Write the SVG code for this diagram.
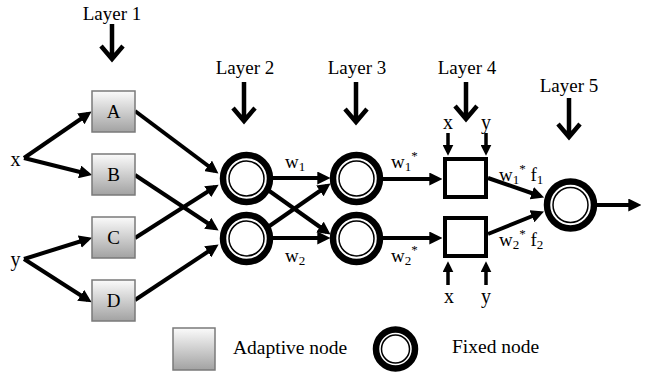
<svg xmlns="http://www.w3.org/2000/svg" width="648" height="377" viewBox="0 0 648 377" font-family="'Liberation Serif', 'Times New Roman', serif">
<defs>
<linearGradient id="gbox" x1="0" y1="0" x2="0" y2="1">
<stop offset="0" stop-color="#fbfbfb"/>
<stop offset="1" stop-color="#a2a2a2"/>
</linearGradient>
<marker id="ah" viewBox="0 0 12 12" refX="8" refY="6" markerWidth="13" markerHeight="13" markerUnits="userSpaceOnUse" orient="auto">
<path d="M0,0 L12,6 L0,12 z" fill="#000"/>
</marker>
<marker id="ahs" viewBox="0 0 12 12" refX="8" refY="6" markerWidth="11" markerHeight="11" markerUnits="userSpaceOnUse" orient="auto">
<path d="M0,0 L12,6 L0,12 z" fill="#000"/>
</marker>
</defs>
<style>
text{fill:#000;font-family:'Liberation Serif','Times New Roman',serif;}
.lbl{font-size:19px;text-anchor:middle;}
.in{font-size:20px;text-anchor:middle;}
.w{font-size:19px;}
.sub{font-size:13px;}
.ad{fill:url(#gbox);stroke:#7a7a7a;stroke-width:1.5;}
.ring{fill:#fff;stroke:#000;stroke-width:6.5;}
.inner{fill:none;stroke:#000;stroke-width:1.5;}
.sq{fill:#fff;stroke:#000;stroke-width:4;}
.c{fill:none;stroke:#000;stroke-width:4;marker-end:url(#ah);}
.cs{fill:none;stroke:#000;stroke-width:3.5;marker-end:url(#ahs);}
.la{fill:none;stroke:#000;stroke-width:4.5;stroke-linejoin:miter;}
</style>
<rect width="648" height="377" fill="#fff"/>

<g id="layer-labels">
<text class="lbl" x="112" y="20">Layer 1</text>
<path class="la" d="M112,24 V58 M101,46 L112,59 L123,46"/>
<text class="lbl" x="245" y="74">Layer 2</text>
<path class="la" d="M244,82 V120 M233,108 L244,121 L255,108"/>
<text class="lbl" x="357" y="74">Layer 3</text>
<path class="la" d="M356,82 V121 M345,109 L356,122 L367,109"/>
<text class="lbl" x="467" y="74">Layer 4</text>
<path class="la" d="M466,82 V118 M455,106 L466,119 L477,106"/>
<text class="lbl" x="569" y="92">Layer 5</text>
<path class="la" d="M569,98 V136 M558,124 L569,137 L580,124"/>
</g>

<g id="inputs">
<text class="in" x="15.5" y="166">x</text>
<text class="in" x="15.5" y="266">y</text>
<text class="in" x="448" y="129">x</text>
<text class="in" x="486" y="129">y</text>
<text class="in" x="449" y="303">x</text>
<text class="in" x="486" y="303">y</text>
</g>

<g id="connectors">
<line class="c" x1="24" y1="158" x2="88" y2="114"/>
<line class="c" x1="24" y1="158" x2="88" y2="174"/>
<line class="c" x1="24" y1="259" x2="88" y2="239"/>
<line class="c" x1="24" y1="259" x2="88" y2="300"/>
<line class="c" x1="135" y1="111" x2="215" y2="171"/>
<line class="c" x1="135" y1="175" x2="215" y2="228"/>
<line class="c" x1="135" y1="238" x2="215" y2="187"/>
<line class="c" x1="135" y1="300" x2="215" y2="247"/>
<line class="c" x1="272" y1="178" x2="326" y2="178"/>
<line class="c" x1="268" y1="190" x2="327" y2="232"/>
<line class="c" x1="268" y1="227" x2="327" y2="186"/>
<line class="c" x1="272" y1="238" x2="326" y2="238"/>
<line class="c" x1="383" y1="179" x2="438" y2="179"/>
<line class="c" x1="383" y1="238" x2="438" y2="238"/>
<line class="c" x1="488" y1="178" x2="540" y2="196"/>
<line class="c" x1="488" y1="234" x2="540" y2="213"/>
<line class="c" x1="597" y1="205" x2="637" y2="205"/>
<line class="cs" x1="448" y1="133" x2="448" y2="152"/>
<line class="cs" x1="486" y1="133" x2="486" y2="152"/>
<line class="cs" x1="448" y1="285" x2="448" y2="265"/>
<line class="cs" x1="486" y1="285" x2="486" y2="265"/>
</g>

<g id="edge-labels">
<text class="w" x="285" y="168">w<tspan class="sub" dy="3">1</tspan></text>
<text class="w" x="285" y="262">w<tspan class="sub" dy="3">2</tspan></text>
<text class="w" x="391" y="168">w<tspan class="sub" dy="3">1</tspan><tspan class="sub" dy="-11">*</tspan></text>
<text class="w" x="391" y="262">w<tspan class="sub" dy="3">2</tspan><tspan class="sub" dy="-11">*</tspan></text>
<text class="w" x="499" y="181">w<tspan class="sub" dy="3">1</tspan><tspan class="sub" dy="-11">*</tspan><tspan dy="8"> f</tspan><tspan class="sub" dy="3">1</tspan></text>
<text class="w" x="499" y="246">w<tspan class="sub" dy="3">2</tspan><tspan class="sub" dy="-11">*</tspan><tspan dy="8"> f</tspan><tspan class="sub" dy="3">2</tspan></text>
</g>

<g id="node-A"><rect class="ad" x="92" y="91" width="43" height="41"/><text class="lbl" x="113.5" y="118">A</text></g>
<g id="node-B"><rect class="ad" x="92" y="154" width="43" height="41"/><text class="lbl" x="113.5" y="181">B</text></g>
<g id="node-C"><rect class="ad" x="92" y="217" width="43" height="41"/><text class="lbl" x="113.5" y="244">C</text></g>
<g id="node-D"><rect class="ad" x="92" y="280" width="43" height="41"/><text class="lbl" x="113.5" y="307">D</text></g>

<g id="node-L2a"><circle class="ring" cx="246.5" cy="178.5" r="23.5"/><circle class="inner" cx="246.5" cy="178.5" r="17.5"/></g>
<g id="node-L2b"><circle class="ring" cx="246.5" cy="238.5" r="23.5"/><circle class="inner" cx="246.5" cy="238.5" r="17.5"/></g>
<g id="node-L3a"><circle class="ring" cx="356.5" cy="178.5" r="23.5"/><circle class="inner" cx="356.5" cy="178.5" r="17.5"/></g>
<g id="node-L3b"><circle class="ring" cx="356.5" cy="238.5" r="23.5"/><circle class="inner" cx="356.5" cy="238.5" r="17.5"/></g>

<g id="node-L4a"><rect class="sq" x="445" y="159" width="41" height="38"/></g>
<g id="node-L4b"><rect class="sq" x="445" y="218" width="41" height="38"/></g>

<g id="node-L5"><circle class="ring" cx="570.5" cy="205" r="23.5"/><circle class="inner" cx="570.5" cy="205" r="17.5"/></g>

<g id="legend">
<rect class="ad" x="173" y="328" width="42" height="42"/>
<text x="233" y="354" font-size="19.5">Adaptive node</text>
<circle class="ring" cx="395.5" cy="349" r="19.5"/><circle class="inner" cx="395.5" cy="349" r="14"/>
<text x="452" y="353" font-size="19.5">Fixed node</text>
</g>
</svg>
